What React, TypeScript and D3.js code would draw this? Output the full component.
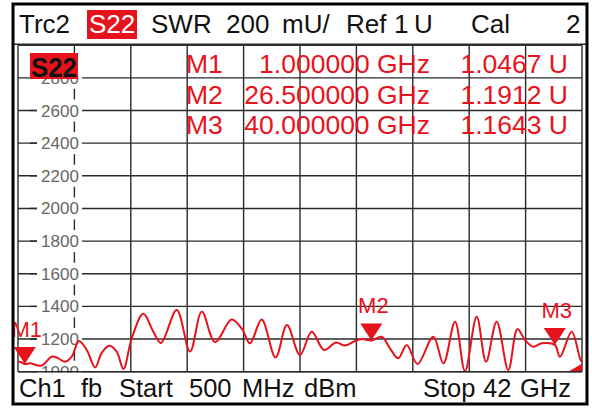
import React from "react";
import * as d3 from "d3";

// trace: frequency (GHz) and SWR (mU)
const traceFreqs = [
  0.5, 0.65, 1.0, 1.38, 2.24, 2.98, 3.47, 3.96, 4.45, 4.99, 5.56, 6.17, 6.66, 7.2, 7.76,
  8.26, 8.87, 9.72, 10.46, 11.02, 12.18, 13.16, 14.02, 15.0, 16.22, 16.98, 17.57, 18.43,
  19.45, 20.29, 21.25, 22.11, 23.02, 23.9, 24.56, 25.22, 25.81, 26.5, 27.26, 27.87, 28.48,
  29.1, 29.9, 31.06, 31.8, 32.66, 33.39, 34.25, 34.94, 35.72, 36.58, 37.25, 37.81, 38.42,
  39.04, 40.0, 40.38, 41.24, 41.85, 42.0,
];
const traceSwr = [
  1059, 1061, 1046.7, 1051, 1038, 1092, 1082, 1061, 1092, 1188, 1133, 1026, 1115, 1159, 1123,
  1017, 1205, 1355, 1245, 1176, 1378, 1123, 1368, 1182, 1320, 1262, 1174, 1320,
  1087, 1286, 1102, 1245, 1133, 1179, 1160, 1185, 1200, 1191.2, 1214, 1143, 1082,
  1164, 1047, 1214, 1051, 1306, 1004, 1337, 1061, 1306, 1010, 1262, 1194, 1153,
  1174, 1164.3, 1092, 1245, 1082, 1059,
];

const yTicks = [1000, 1200, 1400, 1600, 1800, 2000, 2200, 2400, 2600, 2800];

const markerNames = ["M1", "M2", "M3"];
const markerFreqs = [1.0, 26.5, 40.0];
const markerValues = [1046.7, 1191.2, 1164.3];

const headerWords = ["Trc2", "S22", "SWR", "200", "mU/", "Ref", "1", "U", "Cal", "2"];
const footerWords = ["Ch1", "fb", "Start", "500", "MHz", "dBm", "Stop", "42", "GHz"];

// layout (x start of each word)
const headerX = [19, 89, 151, 226, 282, 346, 394, 414, 471, 566];
const footerX = [19, 81, 119, 189, 242, 304, 423, 483, 520];

const FONT = "'Liberation Sans', Arial, sans-serif";
const RED = "#e8121c";
const GRID = "#2a2a2a";

const x = d3.scaleLinear().domain([0.5, 42]).range([18, 582]);
const y = d3.scaleLinear().domain([1000, 3000]).range([371.7, 45.2]);

const App: React.FC = () => {
  const vLines = d3.range(11).map((i) => 0.5 + (i * 41.5) / 10);
  const hLines = d3.range(1000, 3001, 200);

  const line = d3
    .line<number>()
    .x((_, i) => x(traceFreqs[i]))
    .y((d) => y(d))
    .curve(d3.curveCatmullRom.alpha(0.5));

  return (
    <div style={{ position: "fixed", left: 0, top: 0 }}>
      <svg width={592} height={410} style={{ display: "block", background: "#fff" }} fontFamily={FONT}>
        {/* grid */}
        {vLines.map((f, i) => (
          <line key={"v" + i} x1={x(f)} x2={x(f)} y1={y(3000)} y2={y(1000)} stroke={GRID} strokeWidth={1.4} />
        ))}
        {hLines.map((v) => (
          <line key={"h" + v} x1={x(0.5)} x2={x(42)} y1={y(v)} y2={y(v)} stroke={GRID} strokeWidth={1.4} />
        ))}

        {/* y tick labels knocked out of the grid */}
        {yTicks.map((v) => (
          <g key={"t" + v}>
            <rect x={37} y={y(v) - 11} width={45} height={22} fill="#fff" />
            <line x1={30} x2={37} y1={y(v)} y2={y(v)} stroke={GRID} strokeWidth={1.4} />
            <text x={60} y={y(v) + 6} textAnchor="middle" fontSize={17} fill="#666">
              {v}
            </text>
          </g>
        ))}

        {/* trace */}
        <path d={line(traceSwr) ?? ""} fill="none" stroke={RED} strokeWidth={2} strokeLinejoin="round" />

        {/* markers */}
        {markerNames.map((m, i) => {
          const mx = x(markerFreqs[i]);
          const my = y(markerValues[i]);
          return (
            <g key={m}>
              <path d={`M${mx},${my} L${mx - 11},${my - 17} L${mx + 11},${my - 17} Z`} fill={RED} />
              <text x={mx + 2} y={my - 27} textAnchor="middle" fontSize={22} fill={RED}>
                {m}
              </text>
            </g>
          );
        })}
        <path d={`M${x(42) - 14},${y(1000)} L${x(42)},${y(1000)} L${x(42)},${y(1000) - 8} Z`} fill={RED} />

        {/* S22 trace label */}
        <rect x={30} y={53} width={48} height={26} fill={RED} />
        <text x={31} y={77} fontSize={27} fill="#111" fontWeight="bold" textLength={46} lengthAdjust="spacingAndGlyphs">
          S22
        </text>

        {/* marker table */}
        {markerNames.map((m, i) => {
          const by = 73 + i * 30.7;
          return (
            <g key={"row" + m} fill={RED} fontSize={26.5}>
              <text x={186} y={by}>{m}</text>
              <text x={430} y={by} textAnchor="end">
                {markerFreqs[i].toFixed(6)} GHz
              </text>
              <text x={568} y={by} textAnchor="end">
                {(markerValues[i] / 1000).toFixed(4)} U
              </text>
            </g>
          );
        })}

        {/* header */}
        <rect x={14} y={5} width={572} height={38} fill="#fff" />
        <line x1={14} x2={586} y1={y(3000) - 1} y2={y(3000) - 1} stroke={GRID} strokeWidth={1.5} />
        <rect x={87} y={10} width={50} height={29} fill={RED} />
        {headerWords.map((w, i) => (
          <text key={"hw" + i} x={headerX[i]} y={33} fontSize={26} fill={i === 1 ? "#fff" : "#111"}>
            {w}
          </text>
        ))}

        {/* footer */}
        <rect x={14} y={y(1000) + 1} width={572} height={32} fill="#fff" />
        <line x1={18} x2={582} y1={y(1000)} y2={y(1000)} stroke={GRID} strokeWidth={1.4} />
        {footerWords.map((w, i) => (
          <text key={"fw" + i} x={footerX[i]} y={397} fontSize={25.5} fill="#111">
            {w}
          </text>
        ))}

        {/* frame */}
        <rect x={13} y={4} width={574} height={400} fill="none" stroke="#000" strokeWidth={3} />
      </svg>
    </div>
  );
};

export default App;
